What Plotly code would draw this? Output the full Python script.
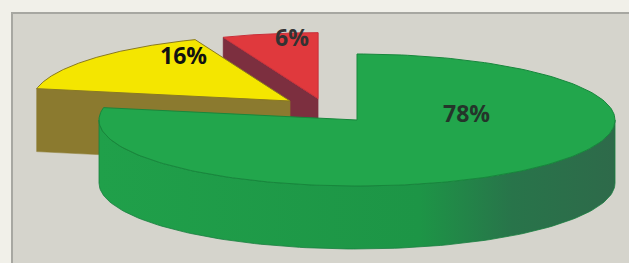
import numpy as np
import plotly.graph_objects as go

# ---- data ----
labels = ["78%", "16%", "6%"]
values = [78, 16, 6]

# ---- style ----
top_colors = ["#22a64c", "#f4e600", "#e0393d"]
face_colors = ["#1e9a47", "#8b7a2f", "#7c2f3f"]
edge_colors = ["#17873c", "#8a7a20", "#c8303a"]
explode = [0, 100, 92]          # explode distance (plane px)
explode_dir = [0, 318, 335]     # explode direction (deg clockwise from 12 o'clock)
label_xy = [(466, 113), (183, 55), (292, 37)]
label_colors = ["#24352a", "#111111", "#333333"]

W, H = 629, 263
CX, CY, RX, RY, DEPTH = 357, 120, 258, 66, 63
K = RY / RX


def to_screen(x, y, z=0.0):
    return CX + np.asarray(x), CY - np.asarray(y) * K + z


fracs = np.array(values, dtype=float) / np.sum(values)
ends = np.cumsum(fracs) * 360.0
starts = ends - fracs * 360.0

fig = go.Figure()


def poly(xs, ys, fill, line, lw=1.0, grad=None):
    kw = dict(x=list(xs) + [xs[0]], y=list(ys) + [ys[0]], mode="lines",
              fill="toself", fillcolor=fill, line=dict(color=line, width=lw),
              hoverinfo="skip", showlegend=False)
    if grad is not None:
        kw["fillgradient"] = grad
    fig.add_trace(go.Scatter(**kw))


slices = []
for i in range(len(values)):
    d = np.radians(explode_dir[i])
    ox, oy = explode[i] * np.sin(d), explode[i] * np.cos(d)
    slices.append((oy, i, ox))
slices.sort(key=lambda s: -s[0])

for oy, i, ox in slices:
    a1, a2 = starts[i], ends[i]
    # radial face at start angle
    if np.sin(np.radians(a1)) < -1e-9:
        r = np.radians(a1)
        px = [ox, ox + RX * np.sin(r), ox + RX * np.sin(r), ox]
        py = [oy, oy + RX * np.cos(r), oy + RX * np.cos(r), oy]
        pz = [0, 0, DEPTH, DEPTH]
        sx, sy = zip(*[to_screen(a, b, c) for a, b, c in zip(px, py, pz)])
        poly(sx, sy, face_colors[i], face_colors[i], 0.5)
    # radial face at end angle
    if np.sin(np.radians(a2)) > 1e-9:
        r = np.radians(a2)
        px = [ox, ox + RX * np.sin(r), ox + RX * np.sin(r), ox]
        py = [oy, oy + RX * np.cos(r), oy + RX * np.cos(r), oy]
        pz = [0, 0, DEPTH, DEPTH]
        sx, sy = zip(*[to_screen(a, b, c) for a, b, c in zip(px, py, pz)])
        poly(sx, sy, face_colors[i], face_colors[i], 0.5)
    # outer curved side (front-facing part)
    s1, s2 = max(a1, 90.0), min(a2, 270.0)
    if s2 > s1:
        t = np.radians(np.linspace(s1, s2, 120))
        x = ox + RX * np.sin(t)
        y = oy + RX * np.cos(t)
        tx, ty = to_screen(x, y, 0)
        bx, by = to_screen(x, y, DEPTH)
        xs = np.concatenate([tx, bx[::-1]])
        ys = np.concatenate([ty, by[::-1]])
        grad = dict(type="horizontal",
                    colorscale=[[0, "#20a04a"], [0.62, "#1d9546"],
                                [0.8, "#28744a"], [1, "#2e6a4a"]])
        poly(xs, ys, face_colors[i], "#1a7f40", 0.8, grad)
    # top surface
    t = np.radians(np.linspace(a1, a2, 200))
    x = np.concatenate([[ox], ox + RX * np.sin(t)])
    y = np.concatenate([[oy], oy + RX * np.cos(t)])
    sx, sy = to_screen(x, y, 0)
    poly(sx, sy, top_colors[i], edge_colors[i], 1.0)

for i, lab in enumerate(labels):
    fig.add_annotation(x=label_xy[i][0], y=label_xy[i][1], text=lab,
                       showarrow=False, xanchor="center", yanchor="middle",
                       font=dict(family="Open Sans", size=23, color=label_colors[i],
                                 weight="bold"))

fig.add_shape(type="rect", x0=12, y0=13, x1=W + 10, y1=H + 10,
              fillcolor="#d5d4cc", line=dict(color="#a7a7a1", width=2),
              layer="below")

fig.update_layout(width=W, height=H, margin=dict(l=0, r=0, t=0, b=0),
                  paper_bgcolor="#f1f0e9", plot_bgcolor="#f1f0e9",
                  xaxis=dict(range=[0, W], visible=False, fixedrange=True),
                  yaxis=dict(range=[H, 0], visible=False, fixedrange=True),
                  showlegend=False)

fig.write_html("out.html",
               config={"displayModeBar": False, "staticPlot": True},
               post_script="document.body.style.margin='0';"
                           "document.body.style.overflow='hidden';")
